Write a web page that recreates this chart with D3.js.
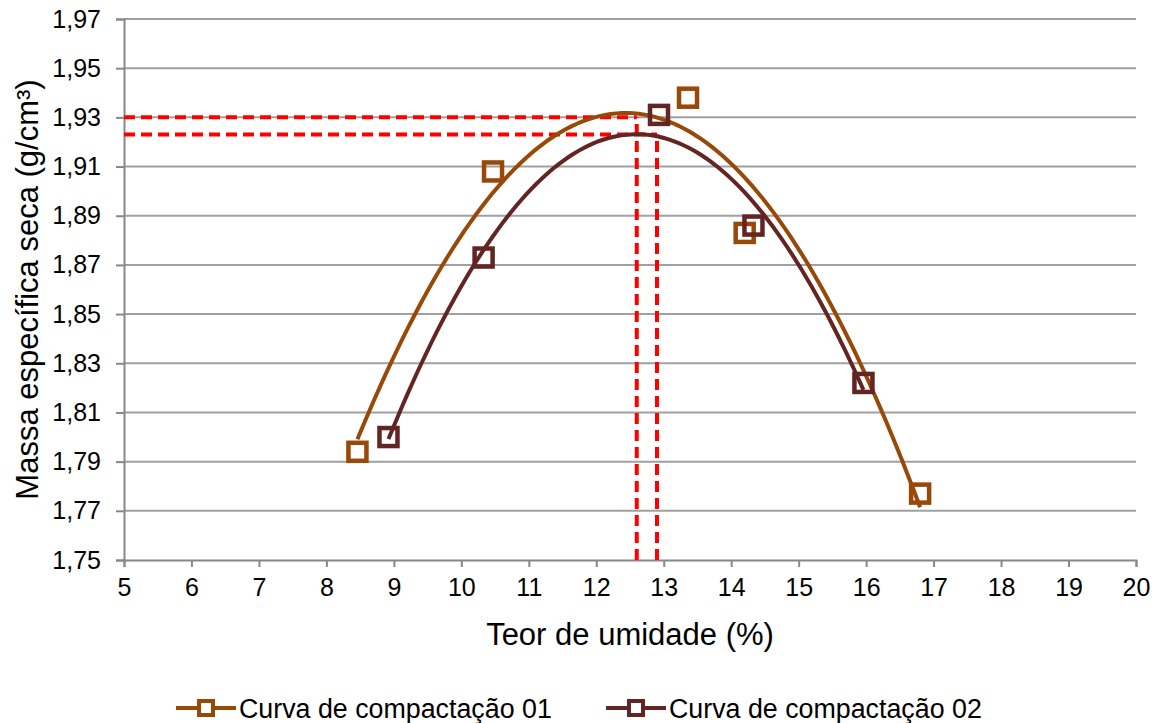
<!DOCTYPE html>
<html>
<head>
<meta charset="utf-8">
<script src="https://cdn.jsdelivr.net/npm/d3@7"></script>
<style>
    body { margin: 0; background: #fff; }
    text { font-family: "Liberation Sans", Arial, sans-serif; fill: #000; }
</style>
</head>
<body>
<div id="chart"></div>
<script>
// values
var seriesNames = ['Curva de compactação 01', 'Curva de compactação 02'];
var seriesColors = ['#984807', '#632523'];
var umidade01 = [8.46, 10.47, 13.36, 14.20, 16.80];
var massa01 = [1.794, 1.908, 1.938, 1.883, 1.777];
var umidade02 = [8.92, 10.33, 12.93, 14.33, 15.96];
var massa02 = [1.800, 1.873, 1.931, 1.886, 1.822];
// optimum (dashed red guides)
var otimoUmidade = [12.6, 12.9];
var otimoMassa = [1.930, 1.923];
var xTicks = d3.range(5, 21, 1);
var yTicks = [1.75, 1.77, 1.79, 1.81, 1.83, 1.85, 1.87, 1.89, 1.91, 1.93, 1.95, 1.97];

var width = 1163, height = 723;
var margin = {left: 124, top: 19, right: 27, bottom: 163};

var svg = d3.select("#chart").append("svg")
    .attr("width", width)
    .attr("height", height);

var x = d3.scaleLinear().domain([5, 20]).range([margin.left, width - margin.right]);
var y = d3.scaleLinear().domain([1.75, 1.97]).range([height - margin.bottom, margin.top]);

// gridlines
svg.append("g").selectAll("line")
    .data(yTicks.slice(1))
    .enter().append("line")
    .attr("x1", x(5)).attr("x2", x(20))
    .attr("y1", d => y(d)).attr("y2", d => y(d))
    .style("stroke", "#a0a0a0")
    .style("stroke-width", 2);

var fmt = d => d3.format(".2f")(d).replace(".", ",");

// axes
var yAxis = svg.append("g")
    .attr("transform", "translate(" + x(5) + ",0)")
    .call(d3.axisLeft(y).tickValues(yTicks).tickFormat(fmt).tickSize(8).tickPadding(15));
var xAxis = svg.append("g")
    .attr("transform", "translate(0," + y(1.75) + ")")
    .call(d3.axisBottom(x).tickValues(xTicks).tickFormat(d3.format("d")).tickSize(7).tickPadding(11));

[xAxis, yAxis].forEach(function (ax) {
    ax.select(".domain").style("stroke", "#888").style("stroke-width", 2);
    ax.selectAll(".tick line").style("stroke", "#888").style("stroke-width", 2);
    ax.selectAll(".tick text").style("font-size", "25px").style("fill", "#000")
        .style("font-family", '"Liberation Sans", Arial, sans-serif');
});

// axis titles
svg.append("text")
    .attr("transform", "translate(38," + ((y(1.75) + y(1.97)) / 2) + ") rotate(-90)")
    .attr("text-anchor", "middle")
    .style("font-size", "31px")
    .text("Massa específica seca (g/cm³)");

svg.append("text")
    .attr("x", (x(5) + x(20)) / 2)
    .attr("y", 645)
    .attr("text-anchor", "middle")
    .style("font-size", "31px")
    .text("Teor de umidade (%)");

// least squares quadratic (excel-like polynomial trendline)
function polyFit(xs, ys) {
    var n = xs.length, s = [0, 0, 0, 0, 0], t = [0, 0, 0];
    for (var i = 0; i < n; i++) {
        for (var k = 0; k < 5; k++) s[k] += Math.pow(xs[i], k);
        for (var k = 0; k < 3; k++) t[k] += ys[i] * Math.pow(xs[i], k);
    }
    var m = [[s[0], s[1], s[2], t[0]], [s[1], s[2], s[3], t[1]], [s[2], s[3], s[4], t[2]]];
    for (var c = 0; c < 3; c++) {
        for (var r = c + 1; r < 3; r++) {
            var f = m[r][c] / m[c][c];
            for (var j = c; j < 4; j++) m[r][j] -= f * m[c][j];
        }
    }
    var a = [0, 0, 0];
    for (var r = 2; r >= 0; r--) {
        var v = m[r][3];
        for (var j = r + 1; j < 3; j++) v -= m[r][j] * a[j];
        a[r] = v / m[r][r];
    }
    return function (v) { return a[0] + a[1] * v + a[2] * v * v; };
}

var series = [
    {name: seriesNames[0], color: seriesColors[0], xs: umidade01, ys: massa01},
    {name: seriesNames[1], color: seriesColors[1], xs: umidade02, ys: massa02}
];

var line = d3.line().x(d => x(d[0])).y(d => y(d[1])).curve(d3.curveLinear);

// dashed red guides
var guides = svg.append("g");
otimoUmidade.forEach(function (w, i) {
    guides.append("line")
        .attr("x1", x(5)).attr("x2", x(w))
        .attr("y1", y(otimoMassa[i])).attr("y2", y(otimoMassa[i]));
    guides.append("line")
        .attr("x1", x(w)).attr("x2", x(w))
        .attr("y1", y(1.75)).attr("y2", y(otimoMassa[i]));
});
guides.selectAll("line")
    .style("stroke", "#ff0000")
    .style("stroke-width", 4)
    .style("stroke-dasharray", "11,6");

// trendlines
series.forEach(function (s) {
    var f = polyFit(s.xs, s.ys);
    var lo = d3.min(s.xs), hi = d3.max(s.xs);
    var pts = d3.range(0, 101).map(i => { var v = lo + (hi - lo) * i / 100; return [v, f(v)]; });
    svg.append("path")
        .attr("d", line(pts))
        .style("fill", "none")
        .style("stroke", s.color)
        .style("stroke-width", 4);
});

// markers
var size = 18;
series.forEach(function (s) {
    svg.append("g").selectAll("rect")
        .data(s.xs)
        .enter().append("rect")
        .attr("x", (d) => x(d) - size / 2)
        .attr("y", (d, i) => y(s.ys[i]) - size / 2)
        .attr("width", size)
        .attr("height", size)
        .style("fill", "none")
        .style("stroke", s.color)
        .style("stroke-width", 4.5);
});

// legend
var legendX = [176, 606];
var legend = svg.selectAll(".legendItem")
    .data(series)
    .enter().append("g")
    .attr("class", "legendItem")
    .attr("transform", (d, i) => "translate(" + legendX[i] + ",708)");
legend.append("line")
    .attr("x1", 0).attr("x2", 60)
    .style("stroke", d => d.color)
    .style("stroke-width", 4);
legend.append("rect")
    .attr("x", 23).attr("y", -7)
    .attr("width", 14).attr("height", 14)
    .style("fill", "#fff")
    .style("stroke", d => d.color)
    .style("stroke-width", 4);
legend.append("text")
    .attr("x", 63)
    .attr("dy", "0.36em")
    .style("font-size", "26.8px")
    .text(d => d.name);
</script>
</body>
</html>
